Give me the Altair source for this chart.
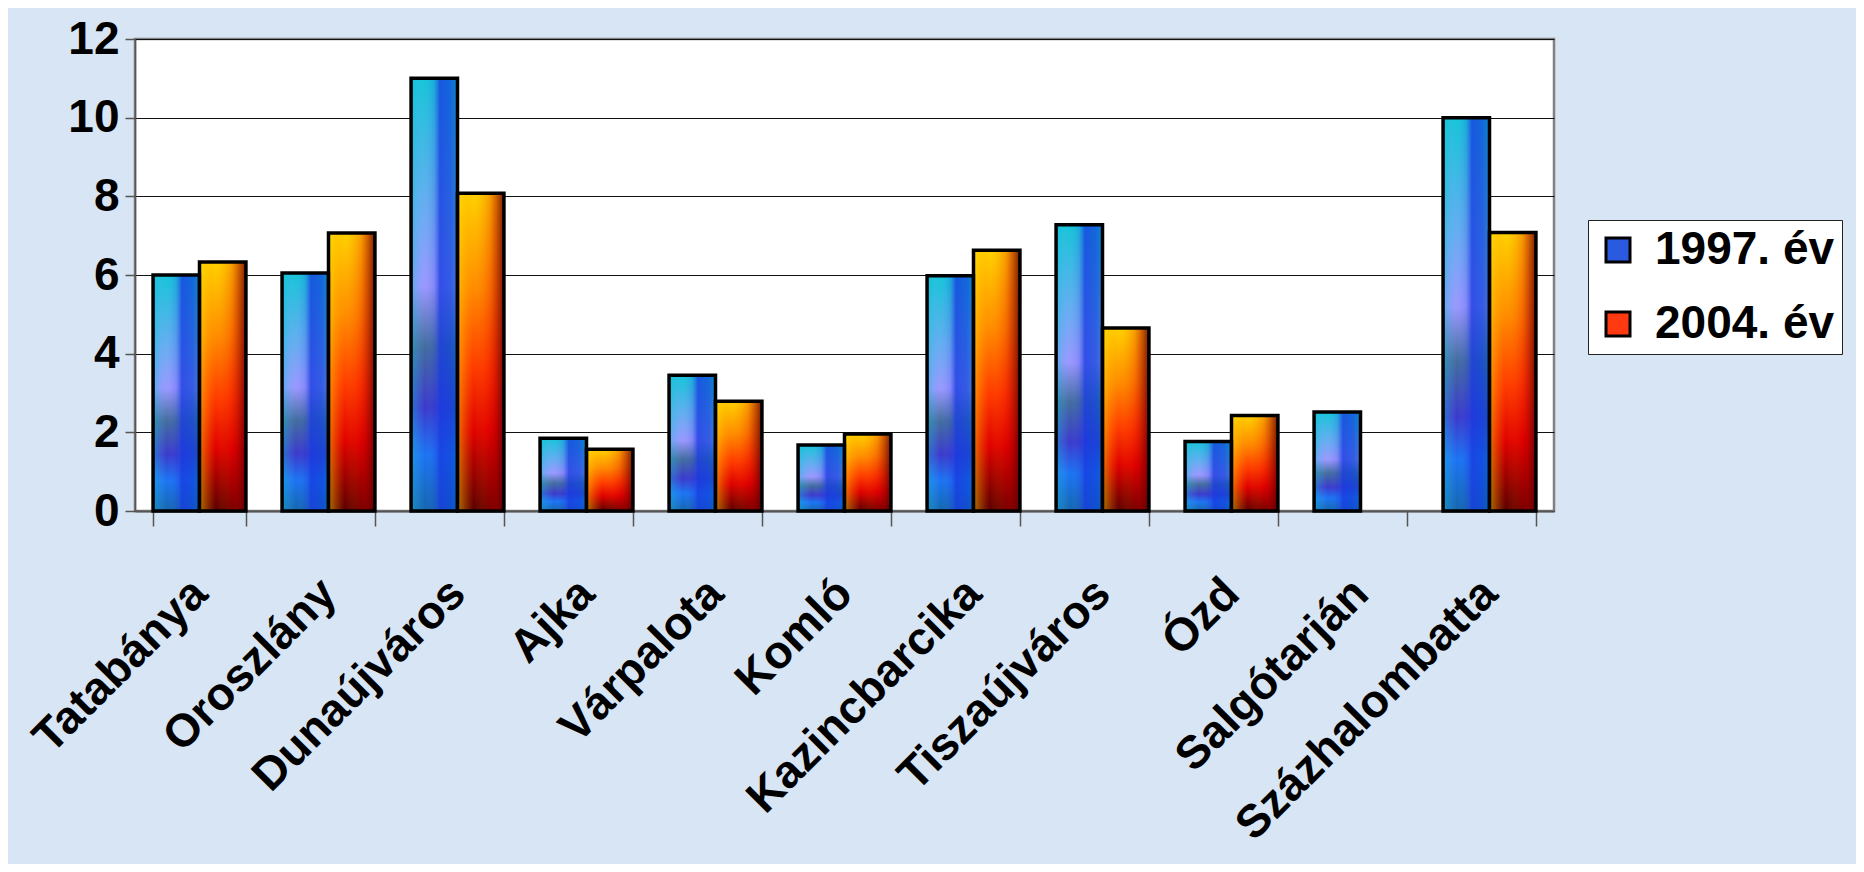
import altair as alt
import pandas as pd

cities = ["Tatabánya", "Oroszlány", "Dunaújváros", "Ajka", "Várpalota", "Komló",
          "Kazincbarcika", "Tiszaújváros", "Ózd", "Salgótarján", "Százhalombatta"]
v1997 = [6.0, 6.05, 11.0, 1.85, 3.45, 1.68, 5.98, 7.28, 1.77, 2.52, 10.0]
v2004 = [6.33, 7.07, 8.08, 1.57, 2.79, 1.96, 6.63, 4.65, 2.43, None, 7.08]
series = ["1997. év", "2004. év"]
y_ticks = [0, 2, 4, 6, 8, 10, 12]

rows = []
for c, a, b in zip(cities, v1997, v2004):
    if a is not None:
        rows.append({"city": c, "year": series[0], "value": a})
    if b is not None:
        rows.append({"city": c, "year": series[1], "value": b})
df = pd.DataFrame(rows)

FONT = "Liberation Sans"


def grad(stops, x1=0, y1=0, x2=0, y2=1):
    return {"gradient": "linear", "x1": x1, "y1": y1, "x2": x2, "y2": y2,
            "stops": [{"offset": o, "color": c} for o, c in stops]}


blue_v = grad([(0, "#0cc8d6"), (0.3, "#64aef0"), (0.48, "#9a98ff"), (0.62, "#3c6a98"),
               (0.76, "#3434c8"), (0.87, "#1272f2"), (1, "#0a64a8")])
red_v = grad([(0, "#ffd200"), (0.3, "#ff8c00"), (0.55, "#ff3a00"), (0.75, "#e00000"),
              (1, "#5a0000")])
blue_h = grad([(0, "rgba(0,200,215,0.45)"), (0.3, "rgba(160,160,255,0.05)"),
               (0.5, "rgba(60,80,230,0.25)"), (0.62, "rgba(25,60,225,0.8)"),
               (0.85, "rgba(20,70,220,0.75)"), (1, "rgba(10,90,190,0.6)")], x2=1, y2=0)
red_h = grad([(0, "rgba(255,230,0,0.5)"), (0.35, "rgba(255,150,0,0.0)"),
              (0.7, "rgba(220,0,0,0.25)"), (1, "rgba(90,0,0,0.85)")], x2=1, y2=0)

is97 = alt.datum.year == series[0]

x_enc = alt.X(
    "city:N", sort=cities,
    scale=alt.Scale(paddingInner=0.28, paddingOuter=0.14),
    axis=alt.Axis(title=None, labelAngle=-45, labelAlign="right", labelBaseline="middle",
                  labelFontSize=46, labelFont=FONT, labelFontWeight="bold",
                  labelColor="black", labelPadding=60, labelLimit=0,
                  tickBand="extent", tickSize=15, tickColor="#555555", tickWidth=1.5,
                  domainColor="#555555", domainWidth=2, grid=False),
)
xo_enc = alt.XOffset("year:N", sort=series,
                     scale=alt.Scale(domain=series, paddingInner=0, paddingOuter=0))
y_enc = alt.Y(
    "value:Q", scale=alt.Scale(domain=[0, 12], nice=False),
    axis=alt.Axis(title=None, values=y_ticks, labelFontSize=46, labelFont=FONT,
                  labelFontWeight="bold", labelColor="black", labelPadding=6,
                  tickSize=10, tickColor="#555555", tickWidth=1.5,
                  domainColor="#555555", domainWidth=1.5,
                  grid=True, gridColor="#111111", gridWidth=1.2),
)

base = alt.Chart(df).mark_bar().encode(
    x=x_enc, xOffset=xo_enc, y=y_enc,
    color=alt.Color("year:N", sort=series,
                    scale=alt.Scale(domain=series, range=["#2a5ae0", "#ff3a10"]),
                    legend=alt.Legend(title=None, orient="none", legendX=1453, legendY=181,
                                      labelFontSize=46, labelFont=FONT, labelFontWeight="bold",
                                      labelColor="black", symbolType="square", symbolSize=576,
                                      symbolStrokeColor="black", symbolStrokeWidth=3,
                                      symbolOpacity=1, labelOffset=14, rowPadding=28,
                                      padding=7, fillColor="white", strokeColor="#222222",
                                      labelLimit=0)),
)

vert = alt.Chart(df).mark_bar().encode(
    x=alt.X("city:N", sort=cities), xOffset=alt.XOffset("year:N", sort=series),
    y="value:Q",
    fill=alt.condition(is97, alt.value(blue_v), alt.value(red_v)),
)

horiz = alt.Chart(df).mark_bar(stroke="black", strokeWidth=3.5).encode(
    x=alt.X("city:N", sort=cities), xOffset=alt.XOffset("year:N", sort=series),
    y="value:Q",
    fill=alt.condition(is97, alt.value(blue_h), alt.value(red_h)),
)

chart = alt.layer(base, vert, horiz).properties(
    width=1419, height=472,
    padding={"left": 127, "top": 31, "right": 302, "bottom": 353},
    autosize=alt.AutoSizeParams(type="none"),
    background="#d7e5f4",
).configure_view(
    fill="white", stroke="#808080", strokeWidth=2.5
)

chart.save("out.html", embed_options={"renderer": "svg", "actions": False})
